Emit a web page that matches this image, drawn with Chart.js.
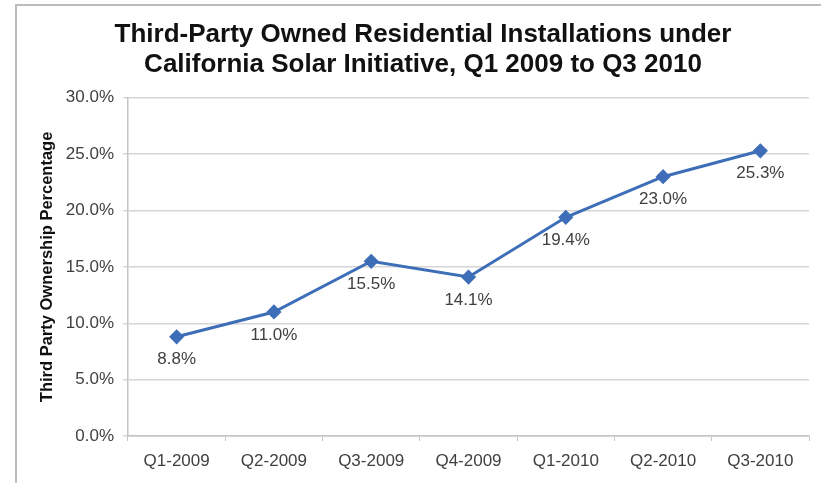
<!DOCTYPE html>
<html>
<head>
<meta charset="utf-8">
<script src="https://cdn.jsdelivr.net/npm/chart.js@4.4.1/dist/chart.umd.min.js"></script>
<style>
  html, body { margin: 0; padding: 0; background: #fff; }
  #wrap { position: relative; width: 821px; height: 483px; overflow: hidden; }
  #frame { position: absolute; left: 15px; top: 4px; width: 900px; height: 600px;
           border-top: 2px solid #bcbcbc; border-left: 2px solid #bcbcbc; }
  canvas { position: absolute; left: 0; top: 0; }
</style>
</head>
<body>
<div id="wrap">
  <div id="frame"></div>
  <canvas id="solarChart" width="821" height="483"></canvas>
</div>
<script>
// quarters and third-party ownership share (%)
var quarters = ['Q1-2009', 'Q2-2009', 'Q3-2009', 'Q4-2009', 'Q1-2010', 'Q2-2010', 'Q3-2010'];
var ownershipPct = [8.8, 11.0, 15.5, 14.1, 19.4, 23.0, 25.3];
var titleLines = ['Third-Party Owned Residential Installations under', 'California Solar Initiative, Q1 2009 to Q3 2010'];
var yAxisTitle = 'Third Party Ownership Percentage';

Chart.defaults.font.family = '"Liberation Sans", Arial, sans-serif';
Chart.defaults.color = '#404040';

// draws the value under each point
var pointLabels = {
  id: 'pointLabels',
  afterDatasetsDraw: function(chart) {
    var ctx = chart.ctx;
    var meta = chart.getDatasetMeta(0);
    ctx.save();
    ctx.font = '17px "Liberation Sans", Arial, sans-serif';
    ctx.fillStyle = '#404040';
    ctx.textAlign = 'center';
    ctx.textBaseline = 'middle';
    meta.data.forEach(function(pt, i) {
      ctx.fillText(ownershipPct[i].toFixed(1) + '%', pt.x, pt.y + 23);
    });
    ctx.restore();
  }
};

var ctx = document.getElementById('solarChart').getContext('2d');
var chart = new Chart(ctx, {
  type: 'line',
  data: {
    labels: quarters,
    datasets: [{
      data: ownershipPct,
      borderColor: '#3d6eb7',
      backgroundColor: '#3d6eb7',
      borderWidth: 3,
      pointStyle: 'rectRot',
      pointRadius: 5.5,
      pointHoverRadius: 5.5,
      tension: 0
    }]
  },
  options: {
    responsive: false,
    animation: false,
    events: [],
    layout: { padding: { left: 37, right: 12, top: 0, bottom: 0 } },
    plugins: {
      legend: { display: false },
      tooltip: { enabled: false },
      title: {
        display: true,
        text: titleLines,
        color: '#111',
        font: { size: 26, weight: 'bold', lineHeight: 1.15 },
        padding: { top: 20, bottom: 18 }
      }
    },
    scales: {
      x: {
        offset: true,
        grid: { offset: true, drawOnChartArea: false, color: '#c4c4c4', tickLength: 5 },
        border: { color: '#c4c4c4', width: 1.5 },
        ticks: { font: { size: 17 }, padding: 10, maxRotation: 0 },
        afterFit: function(s) { s.height = 47; }
      },
      y: {
        min: 0,
        max: 30,
        grid: { color: '#d6d6d6', lineWidth: 1.5, tickLength: 5 },
        border: { color: '#c4c4c4', width: 1.5 },
        ticks: {
          stepSize: 5,
          font: { size: 17 },
          padding: 9,
          callback: function(v) { return v.toFixed(1) + '%'; }
        },
        title: {
          display: true,
          text: yAxisTitle,
          color: '#111',
          font: { size: 16.5, weight: 'bold', lineHeight: 1.2 },
          padding: { top: 1, bottom: 0 }
        },
        afterFit: function(s) { s.width = 91; }
      }
    }
  },
  plugins: [pointLabels]
});
</script>
</body>
</html>
